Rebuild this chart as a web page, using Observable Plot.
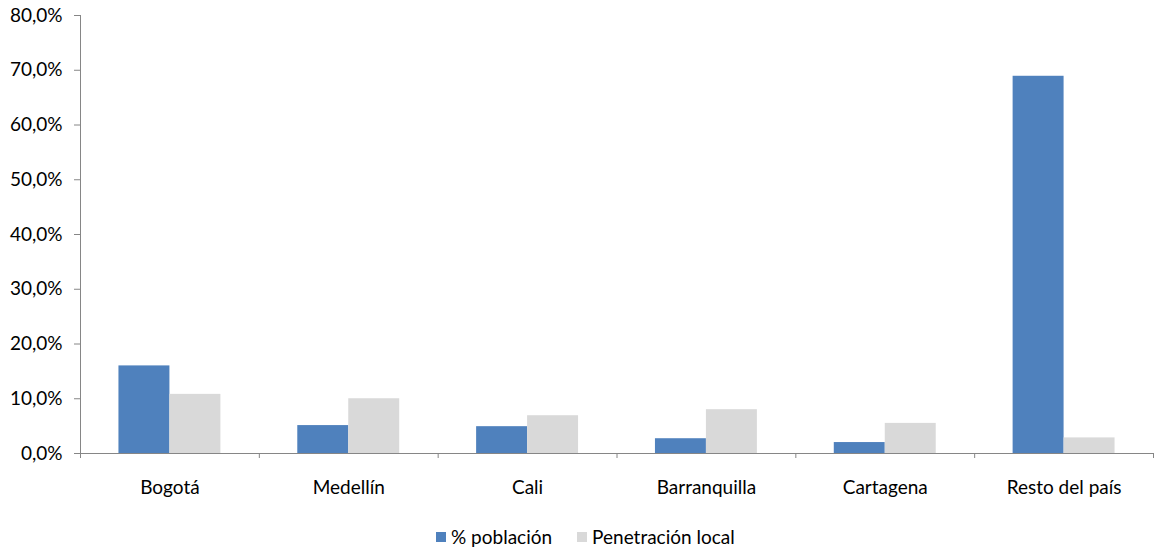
<!DOCTYPE html>
<html>
<head>
<meta charset="utf-8">
<script src="https://cdn.jsdelivr.net/npm/d3@7"></script>
<script src="https://cdn.jsdelivr.net/npm/@observablehq/plot@0.6"></script>
<style>
  html, body { margin: 0; padding: 0; background: #fff; }
  #wrap { position: relative; width: 1156px; height: 548px; font-family: Lato, "Liberation Sans", Arial, sans-serif; }
  #legend { position: absolute; top: 525px; left: 436px; display: flex; align-items: center; font-size: 19px; color: #000; }
  .sw { width: 10px; height: 10px; display: inline-block; margin-right: 5px; }
  .item { display: flex; align-items: center; margin-right: 25px; }
</style>
</head>
<body>
<div id="wrap"><div id="chart"></div><div id="legend"></div></div>
<script>
const cities = ["Bogotá", "Medellín", "Cali", "Barranquilla", "Cartagena", "Resto del país"];
const seriesNames = ["% población", "Penetración local"];
const poblacion = [16.0, 5.1, 4.9, 2.7, 2.0, 68.9];
const penetracion = [10.8, 10.0, 6.9, 8.0, 5.5, 2.85];
const yTicks = [0, 10, 20, 30, 40, 50, 60, 70, 80];
const colors = ["#4F81BD", "#D9D9D9"];

const barW = 0.285;
const rows = [];
cities.forEach((c, i) => {
  rows.push({city: c, series: seriesNames[0], value: poblacion[i], x1: i + 0.5 - barW, x2: i + 0.5});
  rows.push({city: c, series: seriesNames[1], value: penetracion[i], x1: i + 0.5, x2: i + 0.5 + barW});
});

const chart = Plot.plot({
  width: 1156,
  height: 520,
  marginTop: 15,
  marginBottom: 67,
  marginLeft: 80,
  marginRight: 3,
  style: {fontFamily: "Lato, Liberation Sans, Arial, sans-serif", background: "#fff"},
  x: {domain: [0, cities.length], label: null},
  y: {domain: [0, 80], label: null},
  color: {domain: seriesNames, range: colors},
  marks: [
    Plot.rectY(rows, {x1: "x1", x2: "x2", y1: 0, y2: "value", fill: "series"}),
    Plot.ruleY([0], {stroke: "#868686"}),
    Plot.ruleX([0], {stroke: "#868686"}),
    Plot.axisY({ticks: yTicks, tickSize: 6, tickPadding: 12, fontSize: 19, label: null,
      tickFormat: d => d.toFixed(1).replace(".", ",") + "%", stroke: "#868686", fill: "#000"}),
    Plot.axisX({ticks: d3.range(0, cities.length + 1), tickSize: 5, tickFormat: () => "", stroke: "#868686", label: null}),
    Plot.axisX({ticks: cities.map((c, i) => i + 0.5), tickSize: 0, tickPadding: 27, fontSize: 19, label: null,
      tickFormat: d => cities[Math.floor(d)], fill: "#000"})
  ]
});
document.getElementById("chart").appendChild(chart);

const legend = document.getElementById("legend");
seriesNames.forEach((s, i) => {
  const item = document.createElement("div");
  item.className = "item";
  const sw = document.createElement("span");
  sw.className = "sw";
  sw.style.background = colors[i];
  item.appendChild(sw);
  item.appendChild(document.createTextNode(s));
  legend.appendChild(item);
});
</script>
</body>
</html>
